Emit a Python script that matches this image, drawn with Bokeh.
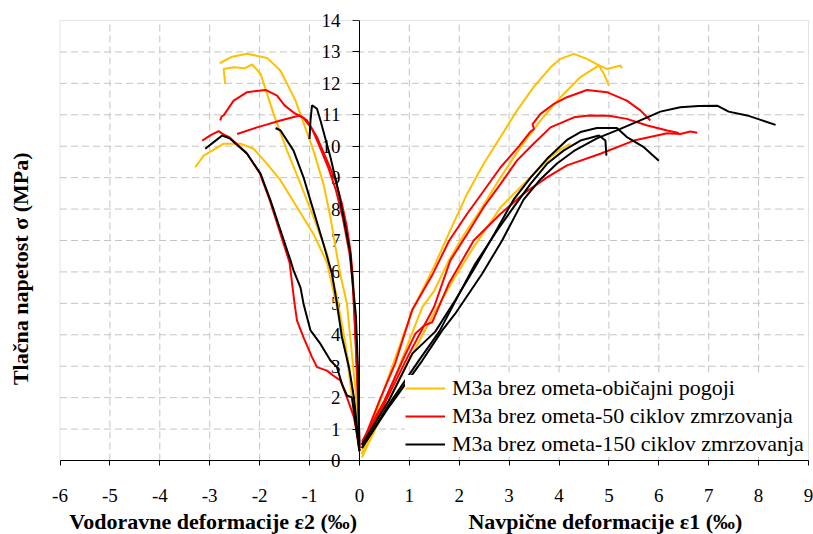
from bokeh.plotting import figure
from bokeh.models import (LinearAxis, FixedTicker, Legend, LegendItem, Label,
                          Range1d, BoxAnnotation)
from bokeh.embed import file_html
from bokeh.resources import INLINE

# ---------------- data ----------------
# Horizontal strain e2 (left branches, negative) and stress s (MPa)
y1_e2 = [-2.80, -2.55, -2.25, -1.85, -1.58, -1.28, -0.92, -0.72, -0.58, -0.48, -0.38, -0.25, -0.15, -0.05, 0.0]
y1_s2 = [12.64, 12.85, 12.94, 12.81, 12.4, 11.45, 9.86, 8.8, 7.74, 6.79, 5.9, 4.99, 3.39, 1.8, 0.3]
y2_e2 = [-2.69, -2.72, -2.52, -2.3, -2.15, -1.98, -1.72, -1.45, -1.18, -0.92, -0.65, -0.45, -0.3, -0.15, -0.05, 0.0]
y2_s2 = [11.98, 12.46, 12.51, 12.48, 12.6, 12.3, 11.03, 9.86, 8.8, 7.74, 6.58, 5.2, 3.9, 2.4, 1.0, 0.3]
y3_e2 = [-3.29, -3.12, -2.95, -2.72, -2.38, -2.12, -1.85, -1.58, -1.25, -0.92, -0.65, -0.45, -0.25, -0.08, 0.0]
y3_s2 = [9.33, 9.7, 9.86, 10.08, 10.08, 9.92, 9.44, 8.91, 8.06, 7.21, 6.3, 4.88, 3.29, 1.18, 0.3]

r1_e2 = [-2.79, -2.76, -2.72, -2.52, -2.25, -1.88, -1.65, -1.5, -1.3, -1.12, -0.95, -0.8, -0.62, -0.47, -0.33, -0.2, -0.14, -0.08, -0.02, 0.0]
r1_s2 = [10.82, 10.95, 10.98, 11.45, 11.72, 11.79, 11.61, 11.3, 11.05, 10.9, 10.55, 10.0, 9.3, 8.6, 7.7, 6.6, 5.8, 4.0, 1.8, 0.4]
r2_e2 = [-2.45, -2.05, -1.58, -1.2, -1.05, -0.85, -0.65, -0.48, -0.35, -0.25, -0.18, -0.13, -0.08, -0.01, 0.0]
r2_s2 = [10.39, 10.6, 10.82, 10.98, 10.82, 10.29, 9.55, 8.91, 8.17, 7.42, 6.68, 5.83, 3.92, 1.27, 0.3]
r3_e2 = [-3.15, -2.98, -2.82, -2.75, -2.6, -2.27, -2.0, -1.8, -1.6, -1.4, -1.3, -1.25, -1.12, -0.95, -0.85, -0.65, -0.48, -0.38, -0.25, -0.11, -0.01]
r3_s2 = [10.18, 10.35, 10.48, 10.4, 10.28, 9.8, 9.15, 8.3, 7.3, 6.3, 5.0, 4.45, 3.92, 3.29, 2.97, 2.86, 2.65, 2.55, 2.01, 1.38, 0.5]

b1_e2 = [-1.0, -0.98, -0.95, -0.9, -0.85, -0.78, -0.58, -0.41, -0.28, -0.18, -0.15, -0.07, -0.03, 0.0]
b1_s2 = [10.23, 10.82, 11.3, 11.25, 11.19, 10.82, 9.65, 8.49, 7.42, 6.58, 5.9, 4.6, 3.0, 0.4]
b2_e2 = [-1.68, -1.58, -1.32, -1.12, -0.92, -0.72, -0.55, -0.45, -0.35, -0.21, -0.11, -0.03, 0.0]
b2_s2 = [10.58, 10.5, 9.86, 9.01, 7.95, 6.89, 5.94, 4.99, 3.92, 2.97, 2.01, 0.8, 0.3]
b3_e2 = [-3.09, -2.92, -2.75, -2.59, -2.25, -1.98, -1.78, -1.58, -1.38, -1.32, -1.18, -1.12, -0.98, -0.78, -0.58, -0.45, -0.35, -0.25, -0.15, 0.0]
b3_s2 = [9.92, 10.13, 10.34, 10.24, 9.76, 9.12, 8.27, 7.32, 6.36, 6.05, 5.5, 4.99, 4.14, 3.71, 3.18, 2.97, 2.44, 2.07, 2.01, 0.3]

# Vertical strain e1 (right branches) and stress s (MPa)
y1_e1 = [0.05, 0.5, 1.06, 1.49, 1.82, 2.16, 2.49, 2.83, 3.16, 3.49, 3.83, 4.03, 4.3, 4.56, 4.8, 4.9, 5.0]
y1_s1 = [0.2, 2.3, 4.77, 6.15, 7.32, 8.49, 9.44, 10.3, 11.14, 11.88, 12.51, 12.78, 12.94, 12.78, 12.57, 12.3, 11.93]
y2_e1 = [0.05, 0.5, 0.92, 1.26, 1.5, 1.79, 2.1, 2.42, 2.83, 3.23, 3.63, 4.03, 4.43, 4.8, 4.96, 5.1, 5.23, 5.26]
y2_s1 = [0.2, 1.8, 3.5, 4.88, 5.4, 6.36, 7.2, 7.95, 9.01, 9.97, 10.82, 11.56, 12.2, 12.57, 12.46, 12.51, 12.57, 12.48]
y3_e1 = [0.05, 0.5, 1.0, 1.5, 1.9, 2.29, 2.83, 3.36, 3.83, 4.03, 4.23]
y3_s1 = [0.1, 1.6, 3.2, 4.7, 5.8, 6.79, 8.06, 8.91, 9.65, 9.9, 10.08]

r1_e1 = [0.05, 0.4, 0.72, 1.06, 1.46, 1.8, 2.16, 2.5, 2.83, 3.2, 3.42, 3.5, 3.47, 3.63, 3.9, 4.16, 4.56, 4.96, 5.36, 5.63, 5.83]
r1_s1 = [0.5, 1.9, 3.1, 4.8, 5.9, 7.0, 7.85, 8.6, 9.33, 10.0, 10.45, 10.55, 10.7, 11.03, 11.35, 11.56, 11.79, 11.72, 11.45, 11.14, 10.82]
r2_e1 = [0.05, 0.5, 1.0, 1.5, 1.82, 2.16, 2.49, 2.83, 3.16, 3.49, 3.83, 4.3, 4.6, 5.0, 5.36, 5.77, 6.17, 6.4]
r2_s1 = [0.5, 1.8, 3.4, 4.9, 6.36, 7.21, 8.06, 8.8, 9.55, 10.08, 10.6, 10.92, 10.98, 10.97, 10.87, 10.66, 10.5, 10.42]
r3_e1 = [0.05, 0.5, 0.9, 1.12, 1.3, 1.46, 1.79, 2.29, 2.83, 3.29, 3.76, 4.16, 4.83, 5.5, 6.17, 6.43, 6.63, 6.77]
r3_s1 = [0.6, 1.9, 3.3, 4.03, 4.3, 4.4, 5.62, 7.0, 7.85, 8.49, 9.01, 9.39, 9.76, 10.18, 10.41, 10.39, 10.47, 10.43]

b1_e1 = [0.05, 0.59, 1.26, 1.66, 1.92, 2.46, 2.86, 3.29, 3.63, 3.96, 4.3, 4.76, 5.23, 5.77, 6.03, 6.43, 6.8, 7.17, 7.4, 7.77, 8.34]
b1_s1 = [0.4, 1.7, 3.18, 4.14, 4.67, 5.94, 7.0, 8.3, 8.95, 9.45, 9.85, 10.25, 10.55, 10.92, 11.1, 11.24, 11.28, 11.29, 11.1, 10.98, 10.68]
b2_e1 = [0.05, 0.59, 1.06, 1.52, 1.92, 2.3, 2.7, 3.09, 3.43, 3.76, 4.16, 4.43, 4.76, 5.16, 5.36, 5.70, 6.0]
b2_s1 = [0.5, 1.91, 3.4, 4.1, 5.1, 6.1, 7.2, 8.3, 9.0, 9.6, 10.2, 10.45, 10.58, 10.58, 10.29, 9.97, 9.54]
b3_e1 = [0.05, 0.6, 1.2, 1.6, 1.9, 2.3, 2.76, 3.09, 3.43, 3.76, 4.09, 4.43, 4.8, 4.93, 4.95]
b3_s1 = [0.4, 1.8, 3.2, 4.1, 5.0, 6.2, 7.32, 8.06, 8.8, 9.44, 9.86, 10.18, 10.34, 10.18, 9.7]

series_labels = ["M3a brez ometa-običajni pogoji",
                 "M3a brez ometa-50 ciklov zmrzovanja",
                 "M3a brez ometa-150 ciklov zmrzovanja"]
series_colors = ["#FFC000", "#FF0000", "#000000"]

x_ticks = list(range(-6, 10))
y_ticks = list(range(0, 15))
x_title_left = "Vodoravne deformacije ε2 (‰)"
x_title_right = "Navpične deformacije ε1 (‰)"
y_title = "Tlačna napetost σ (MPa)"

groups = [
    [(y1_e2, y1_s2), (y2_e2, y2_s2), (y3_e2, y3_s2),
     (y1_e1, y1_s1), (y2_e1, y2_s1), (y3_e1, y3_s1)],
    [(r1_e2, r1_s2), (r2_e2, r2_s2), (r3_e2, r3_s2),
     (r1_e1, r1_s1), (r2_e1, r2_s1), (r3_e1, r3_s1)],
    [(b1_e2, b1_s2), (b2_e2, b2_s2), (b3_e2, b3_s2),
     (b1_e1, b1_s1), (b2_e1, b2_s1), (b3_e1, b3_s1)],
]

# ---------------- figure ----------------
FONT = "Liberation Serif"
W, H = 813, 534
# plot box (data area) inside the canvas, in pixels
BOX_L, BOX_R, BOX_T, BOX_B = 59.5, 808.0, 20.0, 460.0
xlo, xhi = x_ticks[0], x_ticks[-1]
ylo, yhi = y_ticks[0], y_ticks[-1]
sx = (BOX_R - BOX_L) / (xhi - xlo)
sy = (BOX_B - BOX_T) / (yhi - ylo)
x_range = Range1d(xlo - BOX_L / sx, xhi + (W - BOX_R) / sx)
y_range = Range1d(ylo - (H - BOX_B) / sy, yhi + BOX_T / sy)

p = figure(width=W, height=H, x_range=x_range, y_range=y_range, title=None,
           output_backend="svg", toolbar_location=None,
           x_axis_location=None, y_axis_location=None,
           min_border=0, min_border_left=0, min_border_right=0,
           min_border_top=0, min_border_bottom=0)
p.outline_line_color = None
p.background_fill_color = "white"
p.border_fill_color = "white"
p.xgrid.visible = False
p.ygrid.visible = False

# dashed grid inside the plot box
gxs = [t for t in x_ticks if t not in (0, xlo, xhi)]
gys = [t for t in y_ticks if t not in (ylo, yhi)]
p.segment(x0=gxs, y0=[ylo] * len(gxs), x1=gxs, y1=[yhi] * len(gxs),
          line_color="#c4c4c4", line_dash="7 4", line_width=1, level="underlay")
p.segment(x0=[xlo] * len(gys), y0=gys, x1=[xhi] * len(gys), y1=gys,
          line_color="#c4c4c4", line_dash="7 4", line_width=1, level="underlay")

# plot-box border
p.add_layout(BoxAnnotation(left=xlo, right=xhi, bottom=ylo, top=yhi,
                           fill_alpha=0, line_color="#a6a6a6", line_width=1,
                           level="underlay"))


def style_ticks(ax, tick_out, standoff):
    ax.major_tick_in = 0
    ax.major_tick_out = tick_out
    ax.minor_tick_line_color = None
    ax.axis_line_color = "black"
    ax.major_tick_line_color = "black"
    ax.major_label_standoff = standoff
    ax.major_label_text_font = FONT
    ax.major_label_text_font_size = "19px"
    ax.major_label_text_color = "black"


# x axis along sigma = 0
xa = LinearAxis(fixed_location=0, bounds=(xlo, xhi), ticker=FixedTicker(ticks=x_ticks),
                major_label_overrides={t: str(t) for t in x_ticks})
style_ticks(xa, 5, 23)
p.add_layout(xa, "below")

# y axis along e = 0
ya = LinearAxis(fixed_location=0, bounds=(ylo, yhi), ticker=FixedTicker(ticks=y_ticks))
style_ticks(ya, 7, 12)
ya.level = "underlay"
p.add_layout(ya, "left")

# axis titles
title_kw = dict(text_font=FONT, text_font_style="bold", text_font_size="22px",
                text_color="black", text_align="center", text_baseline="middle")
p.add_layout(Label(x=-2.93, y=-1.93, text=x_title_left, **title_kw))
p.add_layout(Label(x=4.93, y=-1.93, text=x_title_right, **title_kw))
p.add_layout(Label(x=-6.79, y=6.1, text=y_title, angle=90, angle_units="deg", **title_kw))

items = []
for grp, col, lab in zip(groups, series_colors, series_labels):
    first = None
    for xs, ys in grp:
        r = p.line(xs, ys, line_color=col, line_width=2)
        if first is None:
            first = r
    items.append(LegendItem(label=lab, renderers=[first]))

legend = Legend(items=items, location=(405, 77), padding=0, margin=0, spacing=2,
                glyph_width=40, glyph_height=22, label_height=22, label_standoff=7,
                label_text_font=FONT, label_text_font_size="22px",
                label_text_color="black",
                border_line_color=None, background_fill_color="white",
                background_fill_alpha=1.0)
p.add_layout(legend)

open("out.html", "w").write(file_html(p, INLINE))
